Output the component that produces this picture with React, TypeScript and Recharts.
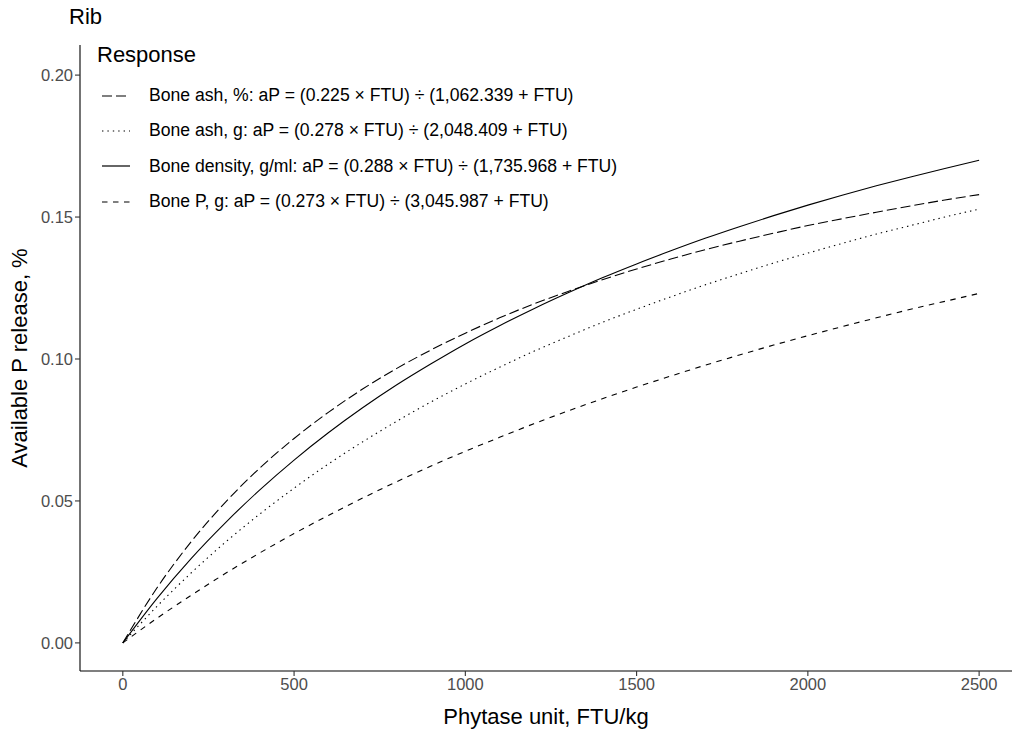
import React from 'react';
import { LineChart, Line, XAxis, YAxis, Legend, Label } from 'recharts';

// phytase dose, FTU/kg
const ftu = [0, 100, 200, 300, 400, 500, 600, 700, 800, 900, 1000, 1100, 1200, 1300, 1400, 1500, 1600, 1700, 1800, 1900, 2000, 2100, 2200, 2300, 2400, 2500];

// available P release (%)
const boneAshPct = [0, 0.0194, 0.0357, 0.0496, 0.0616, 0.072, 0.0812, 0.0894, 0.0967, 0.1032, 0.1091, 0.1145, 0.1194, 0.1238, 0.1279, 0.1317, 0.1352, 0.1385, 0.1415, 0.1443, 0.147, 0.1494, 0.1517, 0.1539, 0.156, 0.1579];
const boneAshG = [0, 0.0129, 0.0247, 0.0355, 0.0454, 0.0545, 0.063, 0.0708, 0.0781, 0.0849, 0.0912, 0.0971, 0.1027, 0.1079, 0.1129, 0.1175, 0.1219, 0.1261, 0.13, 0.1338, 0.1373, 0.1407, 0.144, 0.147, 0.15, 0.1528];
const boneDensity = [0, 0.0157, 0.0298, 0.0424, 0.0539, 0.0644, 0.074, 0.0828, 0.0909, 0.0983, 0.1053, 0.1117, 0.1177, 0.1233, 0.1286, 0.1335, 0.1381, 0.1425, 0.1466, 0.1505, 0.1542, 0.1577, 0.161, 0.1641, 0.1671, 0.17];
const boneP = [0, 0.0087, 0.0168, 0.0245, 0.0317, 0.0385, 0.0449, 0.051, 0.0568, 0.0623, 0.0675, 0.0724, 0.0772, 0.0817, 0.086, 0.0901, 0.094, 0.0978, 0.1014, 0.1049, 0.1082, 0.1114, 0.1145, 0.1175, 0.1203, 0.1231];

const xTicks = [0, 500, 1000, 1500, 2000, 2500];
const yTicks = [0, 0.05, 0.1, 0.15, 0.2];

const series = [
  { key: 'ashPct', name: 'Bone ash, %: aP = (0.225 × FTU) ÷ (1,062.339 + FTU)', dash: '10 4' },
  { key: 'ashG', name: 'Bone ash, g: aP = (0.278 × FTU) ÷ (2,048.409 + FTU)', dash: '1.4 4' },
  { key: 'density', name: 'Bone density, g/ml: aP = (0.288 × FTU) ÷ (1,735.968 + FTU)', dash: undefined },
  { key: 'boneP', name: 'Bone P, g: aP = (0.273 × FTU) ÷ (3,045.987 + FTU)', dash: '5.5 5.5' },
];

const data = ftu.map((x, i) => ({
  ftu: x,
  ashPct: boneAshPct[i],
  ashG: boneAshG[i],
  density: boneDensity[i],
  boneP: boneP[i],
}));

const FONT = '"Liberation Sans", Arial, sans-serif';

const ResponseLegend = () => (
  <div style={{ fontFamily: FONT, color: '#000', textAlign: 'left' }}>
    <div style={{ fontSize: 22, lineHeight: '26px', height: 36 }}>Response</div>
    {series.map((s) => (
      <div key={s.key} style={{ display: 'flex', alignItems: 'center', height: 35.3, whiteSpace: 'nowrap' }}>
        <svg width={50} height={12} style={{ marginLeft: 2 }}>
          <line x1={3} y1={6} x2={31} y2={6} stroke="#000" strokeWidth={1.2} strokeDasharray={s.dash} />
        </svg>
        <span style={{ fontSize: 17.6 }}>{s.name}</span>
      </div>
    ))}
  </div>
);

export default function App() {
  return (
    <div style={{ position: 'absolute', left: 0, top: 0, width: 1013, height: 732, background: '#fff' }}>
      <div style={{ position: 'absolute', left: 69, top: 4, fontFamily: FONT, fontSize: 22, color: '#000' }}>Rib</div>
      <LineChart width={1013} height={732} data={data} margin={{ top: 45, right: 1, left: 0, bottom: 0 }}>
        <XAxis
          type="number"
          dataKey="ftu"
          domain={[-125, 2596]}
          ticks={xTicks}
          allowDataOverflow
          height={61}
          stroke="#000"
          strokeWidth={1.1}
          tickSize={5}
          tick={{ fill: '#4d4d4d', fontSize: 16.5, fontFamily: FONT }}
          tickLine={{ stroke: '#333' }}
        >
          <Label
            content={(props: any) => {
              const vb = props.viewBox;
              return (
                <text x={vb.x + vb.width / 2} y={724} textAnchor="middle" fontSize={22} fontFamily={FONT} fill="#000">
                  Phytase unit, FTU/kg
                </text>
              );
            }}
          />
        </XAxis>
        <YAxis
          type="number"
          domain={[-0.0099, 0.2106]}
          ticks={yTicks}
          allowDataOverflow
          width={80}
          stroke="#000"
          strokeWidth={1.1}
          tickSize={5}
          tickFormatter={(v: number) => v.toFixed(2)}
          tick={{ fill: '#4d4d4d', fontSize: 16.5, fontFamily: FONT }}
          tickLine={{ stroke: '#333' }}
        >
          <Label
            content={(props: any) => {
              const vb = props.viewBox;
              const cy = vb.y + vb.height / 2;
              return (
                <text x={27} y={cy} transform={`rotate(-90 27 ${cy})`} textAnchor="middle" fontSize={22} fontFamily={FONT} fill="#000">
                  Available P release, %
                </text>
              );
            }}
          />
        </YAxis>
        <Legend
          layout="horizontal"
          verticalAlign="middle"
          align="center"
          content={() => <ResponseLegend />}
          wrapperStyle={{ position: 'absolute', left: 97, top: 42, width: 620 }}
        />
        {series.map((s) => (
          <Line
            key={s.key}
            type="monotone"
            dataKey={s.key}
            name={s.name}
            stroke="#000"
            strokeWidth={1.1}
            strokeDasharray={s.dash}
            dot={false}
            activeDot={false}
            isAnimationActive={false}
          />
        ))}
      </LineChart>
    </div>
  );
}
